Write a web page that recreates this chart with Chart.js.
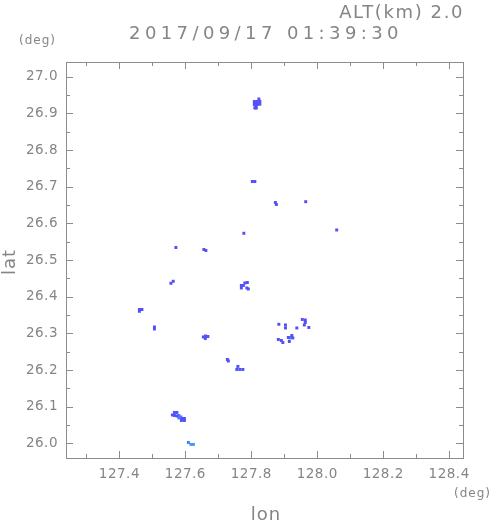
<!DOCTYPE html>
<html>
<head>
<meta charset="utf-8">
<script src="https://cdn.jsdelivr.net/npm/chart.js@4/dist/chart.umd.min.js"></script>
<style>
    html, body { margin: 0; padding: 0; background: #fff; }
    #wrap { width: 491px; height: 521px; }
</style>
</head>
<body>
<div id="wrap"><canvas id="echoChart" width="491" height="521"></canvas></div>
<script>
// axis ranges (deg)
const lonRange = [127.238, 128.442];
const latRange = [25.96, 27.04];

// tick values
const lonTicks = [127.4, 127.6, 127.8, 128.0, 128.2, 128.4];
const lonMinor = [127.3, 127.5, 127.7, 127.9, 128.1, 128.3];
const latTicks = [26.0, 26.1, 26.2, 26.3, 26.4, 26.5, 26.6, 26.7, 26.8, 26.9, 27.0];
const latMinor = [26.05, 26.15, 26.25, 26.35, 26.45, 26.55, 26.65, 26.75, 26.85, 26.95];

// echo cells [lon, lat], grouped by echo level
const echoDark = [
    [127.8229, 26.9391], [127.8092, 26.9323], [127.8183, 26.9323], [127.8259, 26.9323],
    [127.8092, 26.9241], [127.8183, 26.9241], [127.8259, 26.9250], [127.8107, 26.9146],
    [127.8153, 26.9146], [127.8137, 26.9200], [127.8137, 26.9290],
    [127.8031, 26.7141], [127.8107, 26.7141],
    [127.8729, 26.6569], [127.8760, 26.6514],
    [127.9650, 26.6590],
    [128.0590, 26.5819],
    [127.5713, 26.5341],
    [127.6562, 26.5287], [127.6623, 26.5260],
    [127.7774, 26.5729],
    [127.5562, 26.4365], [127.5632, 26.4420],
    [127.7698, 26.4305], [127.7759, 26.4305], [127.7698, 26.4237], [127.7804, 26.4373],
    [127.7880, 26.4387], [127.7865, 26.4237], [127.7910, 26.4210],
    [127.4607, 26.3650], [127.4683, 26.3650], [127.4607, 26.3602],
    [127.5062, 26.3173], [127.5062, 26.3119],
    [127.6607, 26.2928], [127.6607, 26.2860], [127.6683, 26.2914], [127.6547, 26.2900],
    [127.8835, 26.3247],
    [127.9036, 26.3228], [127.9036, 26.3146],
    [127.9547, 26.3378], [127.9637, 26.3364], [127.9637, 26.3296], [127.9607, 26.3228],
    [127.9380, 26.3146],
    [127.9744, 26.3160],
    [127.8820, 26.2833], [127.8911, 26.2805], [127.8956, 26.2750],
    [127.9228, 26.2942], [127.9122, 26.2887], [127.9259, 26.2874], [127.9153, 26.2778],
    [127.7274, 26.2287], [127.7304, 26.2246],
    [127.7592, 26.2097], [127.7562, 26.2015], [127.7653, 26.2015], [127.7744, 26.2015],
    [127.5668, 26.0842], [127.5744, 26.0842], [127.5668, 26.0760], [127.5744, 26.0746],
    [127.5607, 26.0773], [127.5895, 26.0678], [127.5971, 26.0678], [127.5971, 26.0624],
    [127.5880, 26.0624]
];
const echoMid = [
    [127.9198, 26.2887],
    [127.5804, 26.0760], [127.5865, 26.0719], [127.5804, 26.0692],
    [127.6092, 26.0024]
];
const echoLight = [
    [127.9168, 26.2874],
    [127.6168, 25.9970], [127.6244, 25.9970]
];

const axisColor = '#8c8c8c';
const textColor = '#858585';

const toPoints = cells => cells.map(c => ({ x: c[0], y: c[1] }));

// frame with inward ticks on all four sides + free texts
const framePlugin = {
    id: 'frame',
    beforeDraw(chart) {
        chart.ctx.letterSpacing = '0.5px';
    },
    afterDraw(chart) {
        const ctx = chart.ctx;
        const a = chart.chartArea;
        const xs = chart.scales.x;
        const ys = chart.scales.y;
        ctx.save();
        ctx.letterSpacing = '0px';
        ctx.fillStyle = axisColor;
        const L = Math.round(a.left), R = Math.round(a.right);
        const T = Math.round(a.top), B = Math.round(a.bottom);
        ctx.fillRect(L, T, R - L + 1, 1);
        ctx.fillRect(L, B, R - L + 1, 1);
        ctx.fillRect(L, T, 1, B - T + 1);
        ctx.fillRect(R, T, 1, B - T + 1);

        const xTick = (v, len) => {
            const px = Math.round(xs.getPixelForValue(v));
            ctx.fillRect(px, B - len, 1, len);
            ctx.fillRect(px, T, 1, len);
        };
        const yTick = (v, len) => {
            const py = Math.round(ys.getPixelForValue(v));
            ctx.fillRect(L, py, len, 1);
            ctx.fillRect(R - len, py, len, 1);
        };
        lonTicks.forEach(v => xTick(v, 7));
        lonMinor.forEach(v => xTick(v, 4));
        latTicks.forEach(v => yTick(v, 7));
        latMinor.forEach(v => yTick(v, 4));

        ctx.fillStyle = textColor;
        ctx.textBaseline = 'alphabetic';

        ctx.font = '18px "DejaVu Sans"';
        ctx.letterSpacing = '4.4px';
        ctx.textAlign = 'center';
        ctx.fillText('2017/09/17 01:39:30', 266, 39);

        ctx.letterSpacing = '1.6px';
        ctx.textAlign = 'right';
        ctx.fillText('ALT(km) 2.0', 464, 18);

        ctx.font = '12px "DejaVu Sans"';
        ctx.letterSpacing = '1px';
        ctx.textAlign = 'left';
        ctx.fillText('(deg)', 19, 44);
        ctx.fillText('(deg)', 454, 497);

        ctx.font = '18px "DejaVu Sans"';
        ctx.letterSpacing = '1px';
        ctx.textAlign = 'center';
        ctx.fillText('lon', 266, 520);

        ctx.translate(15, 262);
        ctx.rotate(-Math.PI / 2);
        ctx.fillText('lat', 0, 0);
        ctx.restore();
    }
};

new Chart(document.getElementById('echoChart'), {
    type: 'scatter',
    data: {
        datasets: [
            { data: toPoints(echoDark), backgroundColor: '#5450F8' },
            { data: toPoints(echoMid), backgroundColor: '#4A7CFF' },
            { data: toPoints(echoLight), backgroundColor: '#3C9EFF' }
        ]
    },
    options: {
        responsive: false,
        animation: false,
        layout: { padding: { left: 0, top: 62, right: 28, bottom: 0 } },
        elements: {
            point: { pointStyle: 'rect', radius: 2.1, borderWidth: 0, hoverRadius: 2.1 }
        },
        scales: {
            x: {
                type: 'linear',
                min: lonRange[0],
                max: lonRange[1],
                afterBuildTicks: s => { s.ticks = lonTicks.map(v => ({ value: v })); },
                afterFit: s => { s.height = 63; },
                grid: { display: false, drawTicks: false },
                border: { display: false },
                ticks: {
                    autoSkip: false,
                    maxRotation: 0,
                    padding: 8,
                    color: textColor,
                    font: { family: 'DejaVu Sans', size: 13.5 },
                    callback: v => v.toFixed(1)
                }
            },
            y: {
                type: 'linear',
                min: latRange[0],
                max: latRange[1],
                afterBuildTicks: s => { s.ticks = latTicks.map(v => ({ value: v })); },
                afterFit: s => { s.width = 66; },
                grid: { display: false, drawTicks: false },
                border: { display: false },
                ticks: {
                    autoSkip: false,
                    padding: 8,
                    color: textColor,
                    font: { family: 'DejaVu Sans', size: 13.5 },
                    callback: v => v.toFixed(1)
                }
            }
        },
        plugins: {
            legend: { display: false },
            tooltip: { enabled: false }
        }
    },
    plugins: [framePlugin]
});
</script>
</body>
</html>
